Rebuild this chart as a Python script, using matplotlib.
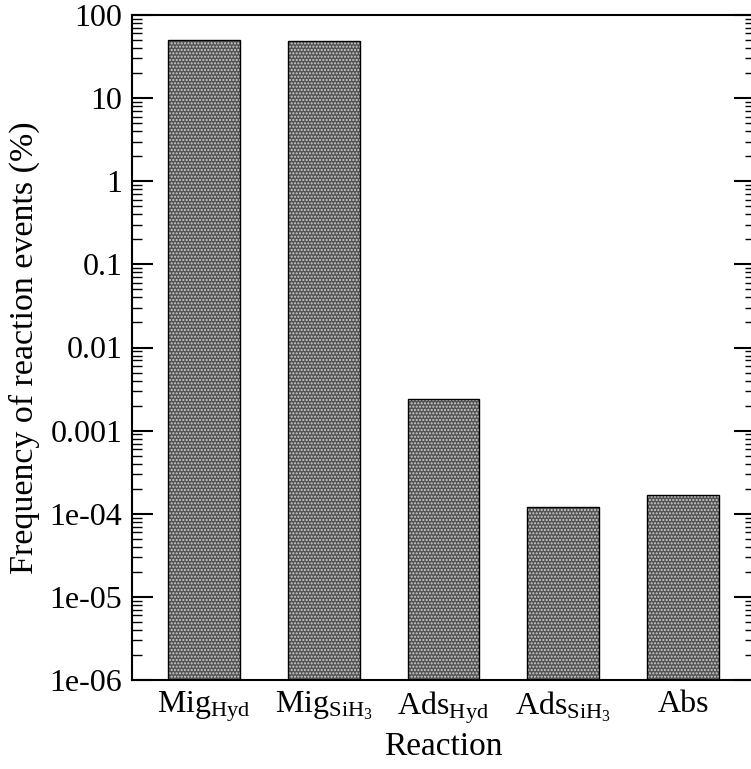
import numpy as np
import matplotlib
matplotlib.use("Agg")
import matplotlib.pyplot as plt
from matplotlib.ticker import FixedLocator, FixedFormatter, LogLocator, NullFormatter

plt.rcParams['font.family'] = ['Liberation Serif', 'DejaVu Serif']
plt.rcParams['mathtext.fontset'] = 'custom'
plt.rcParams['mathtext.rm'] = 'Liberation Serif'
plt.rcParams['mathtext.it'] = 'Liberation Serif:italic'
plt.rcParams['hatch.linewidth'] = 1.0

# data
reactions = [r'Mig$_{\mathrm{Hyd}}$', r'Mig$_{\mathrm{SiH}_{3}}$',
             r'Ads$_{\mathrm{Hyd}}$', r'Ads$_{\mathrm{SiH}_{3}}$', 'Abs']
frequency = [50.0, 49.0, 0.0024, 1.2e-4, 1.65e-4]
ytick_vals = [1e-6, 1e-5, 1e-4, 1e-3, 1e-2, 1e-1, 1, 10, 100]
ytick_labels = ['1e-06', '1e-05', '1e-04', '0.001', '0.01', '0.1', '1', '10', '100']

fig = plt.figure(figsize=(7.51, 7.69), dpi=100)
ax = fig.add_axes([132 / 751, 89 / 769, 623 / 751, 665 / 769])

x = np.arange(1, len(reactions) + 1)
ax.bar(x, frequency, width=0.6, bottom=1e-6, color='#545454',
       edgecolor='#cfcfcf', linewidth=0, hatch='.....', zorder=2)
ax.bar(x, frequency, width=0.6, bottom=1e-6, fill=False,
       edgecolor='black', linewidth=1.0, zorder=3)

ax.set_yscale('log')
ax.set_ylim(1e-6, 100)
ax.set_xlim(0.4, 5.6)

ax.yaxis.set_major_locator(FixedLocator(ytick_vals))
ax.yaxis.set_major_formatter(FixedFormatter(ytick_labels))
ax.yaxis.set_minor_locator(LogLocator(base=10, subs=np.arange(2, 10), numticks=20))
ax.yaxis.set_minor_formatter(NullFormatter())
ax.tick_params(axis='y', which='major', direction='in', length=15, width=1.5,
               left=True, right=True, labelsize=23, pad=7)
ax.tick_params(axis='y', which='minor', direction='in', length=7, width=1.0,
               left=True, right=True)

ax.set_xticks(x)
ax.set_xticklabels(reactions)
ax.tick_params(axis='x', length=0, labelsize=23, pad=7)

for sp in ax.spines.values():
    sp.set_linewidth(1.5)

ax.set_xlabel('Reaction', fontsize=24, labelpad=4)
ax.set_ylabel('Frequency of reaction events (%)', fontsize=24.5, labelpad=7)

fig.savefig('out.png', dpi=100)
